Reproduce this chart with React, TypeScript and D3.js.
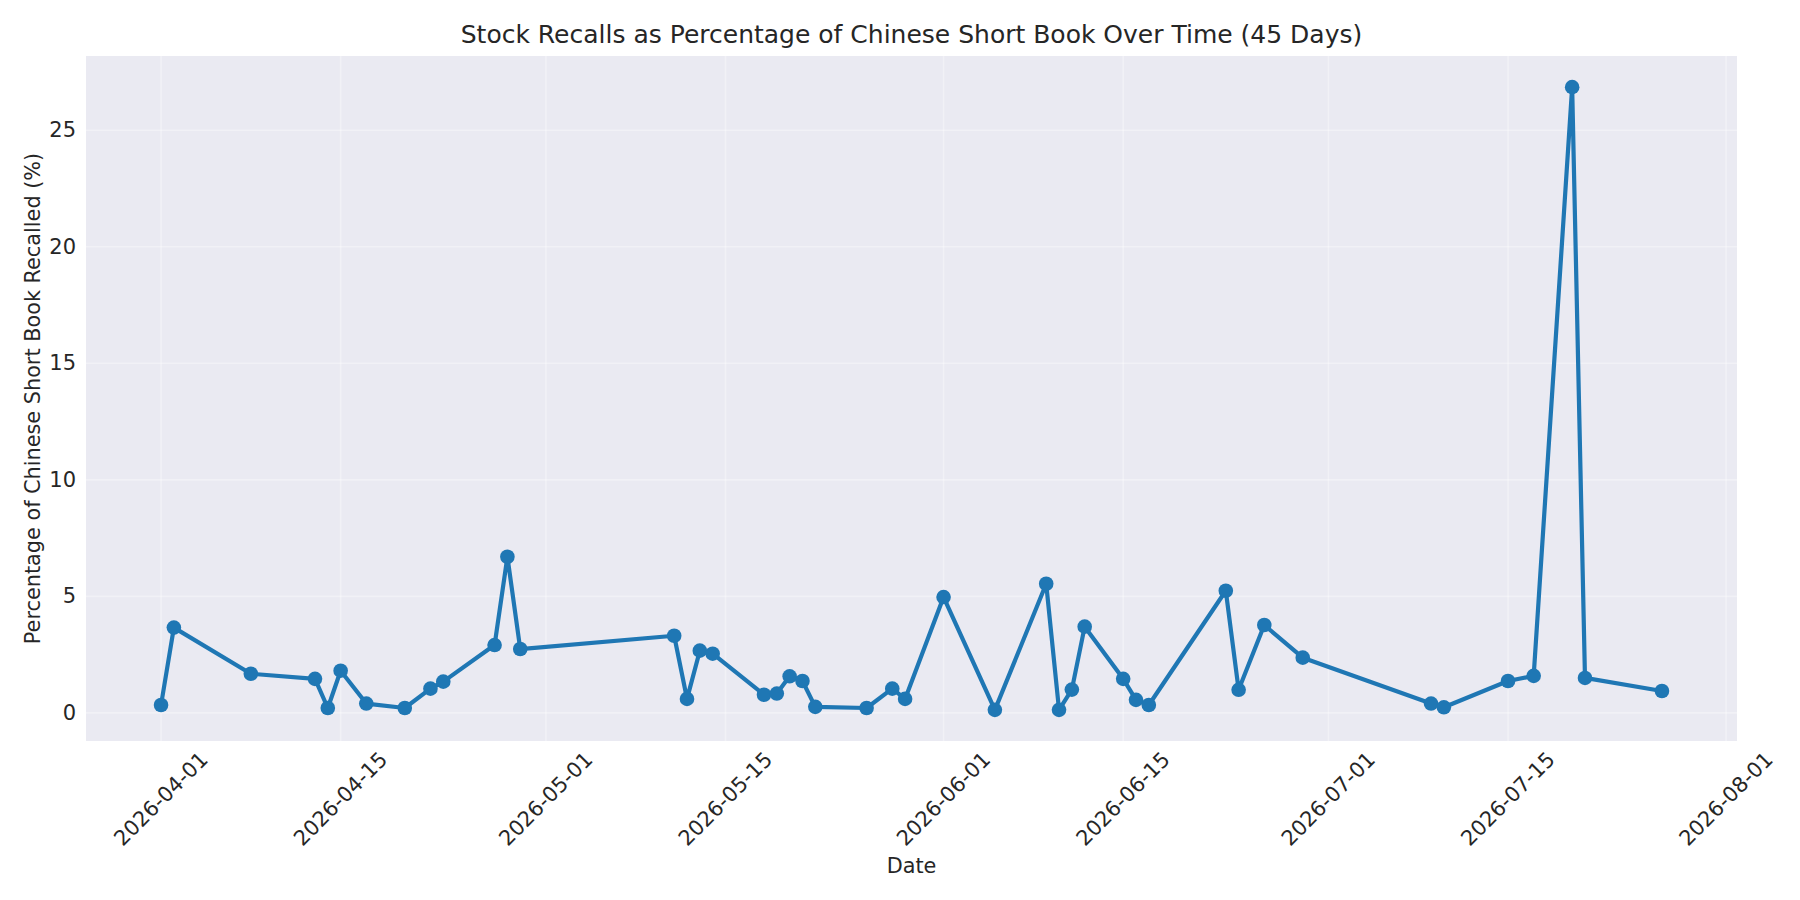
import React from 'react';
import * as d3 from 'd3';

const dates = [
  '2026-04-01', '2026-04-02', '2026-04-08', '2026-04-13', '2026-04-14', '2026-04-15', '2026-04-17',
  '2026-04-20', '2026-04-22', '2026-04-23', '2026-04-27', '2026-04-28', '2026-04-29', '2026-05-11',
  '2026-05-12', '2026-05-13', '2026-05-14', '2026-05-18', '2026-05-19', '2026-05-20', '2026-05-21',
  '2026-05-22', '2026-05-26', '2026-05-28', '2026-05-29', '2026-06-01', '2026-06-05', '2026-06-09',
  '2026-06-10', '2026-06-11', '2026-06-12', '2026-06-15', '2026-06-16', '2026-06-17', '2026-06-23',
  '2026-06-24', '2026-06-26', '2026-06-29', '2026-07-09', '2026-07-10', '2026-07-15', '2026-07-17',
  '2026-07-20', '2026-07-21', '2026-07-27',
];

const recallPct = [
  0.34, 3.66, 1.68, 1.46, 0.21, 1.81, 0.40,
  0.21, 1.04, 1.34, 2.91, 6.70, 2.74, 3.31,
  0.60, 2.67, 2.54, 0.78, 0.83, 1.57, 1.37,
  0.26, 0.21, 1.04, 0.60, 4.97, 0.13, 5.54,
  0.13, 1.00, 3.70, 1.46, 0.56, 0.34, 5.24,
  0.99, 3.77, 2.37, 0.40, 0.24, 1.37, 1.59,
  26.85, 1.50, 0.94,
];

const xTickLabels = [
  '2026-04-01', '2026-04-15', '2026-05-01', '2026-05-15', '2026-06-01',
  '2026-06-15', '2026-07-01', '2026-07-15', '2026-08-01',
];

const yTicks = [0, 5, 10, 15, 20, 25];

const W = 1800;
const H = 900;
const margin = { left: 86, right: 63, top: 56, bottom: 159 };
const FONT = '"DejaVu Sans", sans-serif';
const TEXT = '#262626';
const BLUE = '#1f77b4';

const parse = d3.utcParse('%Y-%m-%d');

const App: React.FC = () => {
  const pts = dates.map((d, i) => ({ date: parse(d)!, value: recallPct[i] }));

  const [t0, t1] = d3.extent(pts, p => +p.date) as [number, number];
  const tPad = (t1 - t0) * 0.05;
  const x = d3.scaleUtc()
    .domain([new Date(t0 - tPad), new Date(t1 + tPad)])
    .range([margin.left, W - margin.right]);

  const [v0, v1] = d3.extent(pts, p => p.value) as [number, number];
  const vPad = (v1 - v0) * 0.05;
  const y = d3.scaleLinear()
    .domain([v0 - vPad, v1 + vPad])
    .range([H - margin.bottom, margin.top]);

  const line = d3.line<{ date: Date; value: number }>()
    .x(p => x(p.date))
    .y(p => y(p.value));

  const plotW = W - margin.left - margin.right;
  const plotH = H - margin.top - margin.bottom;
  const bottom = H - margin.bottom;
  const midX = margin.left + plotW / 2;

  return (
    <svg width={W} height={H} style={{ position: 'absolute', left: 0, top: 0, background: '#fff' }}>
      <rect x={margin.left} y={margin.top} width={plotW} height={plotH} fill="#eaeaf2" />

      {/* grid, faint */}
      <g stroke="#ffffff" strokeOpacity={0.35} strokeWidth={1.6}>
        {xTickLabels.map(t => (
          <line key={t} x1={x(parse(t)!)} x2={x(parse(t)!)} y1={margin.top} y2={bottom} />
        ))}
        {yTicks.map(t => (
          <line key={t} x1={margin.left} x2={W - margin.right} y1={y(t)} y2={y(t)} />
        ))}
      </g>

      {/* series */}
      <path d={line(pts) ?? ''} fill="none" stroke={BLUE} strokeWidth={4.2} strokeLinejoin="round" />
      {pts.map((p, i) => (
        <circle key={i} cx={x(p.date)} cy={y(p.value)} r={7.3} fill={BLUE} />
      ))}

      {/* y ticks */}
      <g fontFamily={FONT} fontSize={21} fill={TEXT}>
        {yTicks.map(t => (
          <text key={t} x={76} y={y(t)} textAnchor="end" dominantBaseline="central">{t}</text>
        ))}
      </g>

      {/* x ticks, rotated 45deg, centred under tick */}
      <g fontFamily={FONT} fontSize={21} fill={TEXT}>
        {xTickLabels.map(t => (
          <text
            key={t}
            transform={`translate(${x(parse(t)!)},${bottom + 58}) rotate(-45)`}
            textAnchor="middle"
            dominantBaseline="central"
          >
            {t}
          </text>
        ))}
      </g>

      <text x={midX} y={873} textAnchor="middle" fontFamily={FONT} fontSize={20.8} fill={TEXT}>Date</text>
      <text
        transform={`translate(40,${margin.top + plotH / 2}) rotate(-90)`}
        textAnchor="middle"
        fontFamily={FONT}
        fontSize={20.8}
        fill={TEXT}
      >
        Percentage of Chinese Short Book Recalled (%)
      </text>
      <text x={midX} y={43} textAnchor="middle" fontFamily={FONT} fontSize={25} fill={TEXT}>
        Stock Recalls as Percentage of Chinese Short Book Over Time (45 Days)
      </text>
    </svg>
  );
};

export default App;
